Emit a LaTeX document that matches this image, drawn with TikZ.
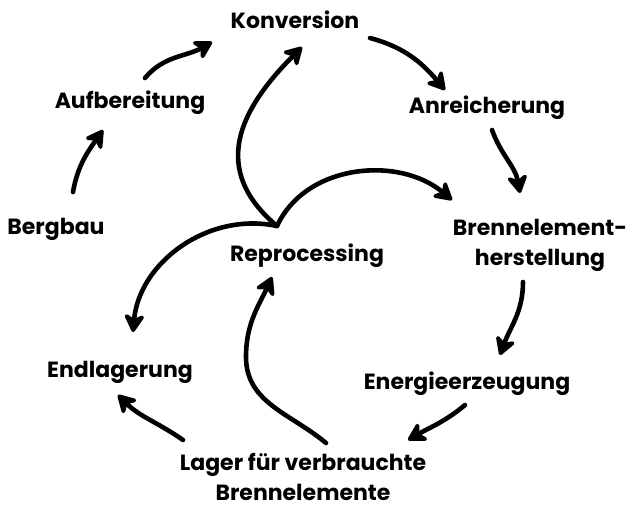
\documentclass[tikz,border=0pt]{standalone}
\usepackage{fontspec}
\setmainfont{Poppins}
\usetikzlibrary{arrows.meta}

\begin{document}
\begin{tikzpicture}[x=1pt, y=1pt,
    lbl/.style={font=\fontsize{22}{30}\selectfont\bfseries, inner sep=0pt, align=center},
    flow/.style={line width=4.6pt, line cap=round,
        -{Stealth[length=22pt, width=25pt, inset=7pt, round]}}]

    \useasboundingbox (0,0) rectangle (626,515);

    % Stations of the cycle
    \node[lbl] (konv)  at (295,495) {Konversion};
    \node[lbl] (aufb)  at (130,412) {Aufbereitung};
    \node[lbl] (anre)  at (487,407) {Anreicherung};
    \node[lbl] (berg)  at (56,286)  {Bergbau};
    \node[lbl] (brenn) at (540,270) {Brennelement-\\herstellung};
    \node[lbl] (repro) at (307,259) {Reprocessing};
    \node[lbl] (endl)  at (120,143) {Endlagerung};
    \node[lbl] (ener)  at (467,131) {Energieerzeugung};
    \node[lbl] (lager) at (303,38)  {Lager für verbrauchte\\Brennelemente};

    % Branch point above Reprocessing, bend of the return arc
    \coordinate (cusp) at ([shift={(-30,30)}]repro.center);
    \coordinate (bend) at ([shift={(-61,-101)}]repro.center);

    % Outer cycle
    \draw[flow] ([shift={(17,37)}]berg.center) to[out=80, in=235]
        ([shift={(-27,-27)}]aufb.center);
    \draw[flow] ([shift={(15,25)}]aufb.center) to[out=50, in=210]
        ([shift={(-83,-22)}]konv.center);
    \draw[flow] ([shift={(75,-18)}]konv.center) to[out=-15, in=130]
        ([shift={(-42,18)}]anre.center);
    \draw[flow] ([shift={(5,-22)}]anre.center) to[out=-70, in=100]
        ([shift={(-20,52)}]brenn.center);
    \draw[flow] ([shift={(-17,-37)}]brenn.center) to[out=-90, in=70]
        ([shift={(33,29)}]ener.center);
    \draw[flow] ([shift={(-2,-21)}]ener.center) to[out=-140, in=30]
        ([shift={(105,37)}]lager.center);
    \draw[flow] ([shift={(-120,37)}]lager.center) to[out=145, in=-45]
        ([shift={(-2,-23)}]endl.center);

    % Reprocessing loop
    \draw[flow] ([shift={(23,34)}]lager.center) to[out=140, in=-90] (bend)
        to[out=90, in=245] ([shift={(-35,-21)}]repro.center);
    \draw[flow] (cusp) to[out=140, in=225, looseness=1.25] ([shift={(7,-27)}]konv.center);
    \draw[flow] (cusp) to[out=65, in=140] ([shift={(-88,45)}]brenn.center);
    \draw[flow] (cusp) to[out=168, in=85] ([shift={(13,40)}]endl.center);

\end{tikzpicture}
\end{document}
